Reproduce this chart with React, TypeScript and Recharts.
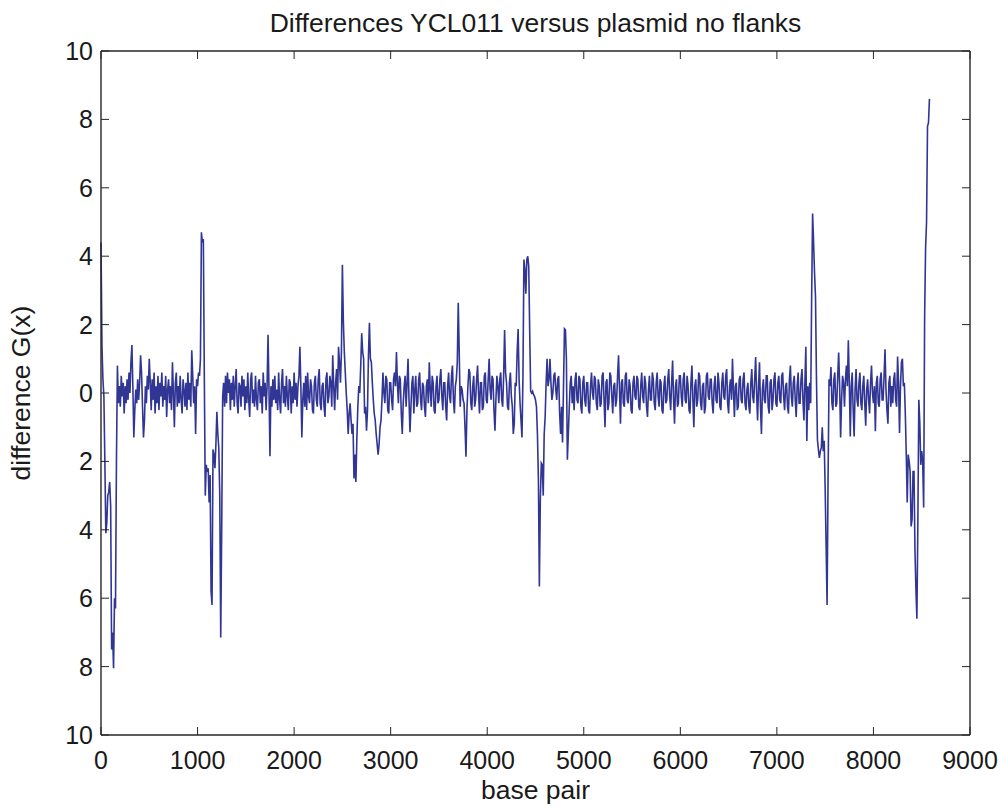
import React from "react";
import { LineChart, Line, XAxis, YAxis } from "recharts";

const STEP = 10;

const SEG_0 = [
  4.4, 1.35, 0.4, -0.1, -2.0, -4.1, -3.8, -3.0, -2.9, -2.6,
  -3.3, -7.5, -7.0, -8.05, -6.0, -6.3, -2.0, 0.8, -0.3, 0.2,
  -0.4, 0.5, -0.1, 0.3, -0.6, 0.2, -0.3, 0.4, -0.2, 0.6,
  0.0, 0.9, 1.4, 0.2, -1.3, -0.5, 0.1, -0.3, 0.4, -0.2,
  0.3, 1.1, 0.6, -0.4, -1.3, -0.8, 0.2, -0.3, 0.5, 0.1,
  1.0, 0.3, -0.5, 0.4, -0.2, 0.6, -0.6, 0.2, -0.3, 0.5,
  -0.5, 0.3, -0.1, 0.6, -0.4, 0.2, -0.2, 0.5, -0.7, 0.1,
  0.4, -0.3, 0.2, -0.5, 0.9, 0.0, -1.0, 0.3, 0.6, -0.4,
  0.2, -0.3, 0.5, -0.2, -0.6, 0.4, 0.1, -0.4, 0.3, -0.5,
  0.6, -0.2, 0.3, -0.4, 1.25, 0.5, -0.3, 0.2, -1.2, 0.4,
];
const SEG_1000 = [
  0.2, 0.6, 0.5, 1.0, 4.7, 4.4, 4.5, 0.5, -3.0, -2.1,
  -2.3, -2.2, -3.2, -2.4, -5.8, -6.2, -1.65, -1.8, -2.2, -1.5,
  -0.55, -1.2, -1.6, -3.0, -7.15, -4.0, -0.1, 0.3, -0.4, 0.5,
  -0.3, 0.6, 0.0, 0.4, -0.5, 0.3, -0.2, 0.5, -0.4, 0.2,
  0.7, -0.3, -0.6, 0.3, 0.2, -0.4, 0.5, -0.1, 0.4, -0.5,
  0.2, -0.3, 0.6, -0.2, -0.7, 0.4, 0.6, -0.3, 0.1, -0.4,
  0.5, -0.2, -0.5, 0.3, 0.4, -0.3, 0.2, -0.6, 0.6, -0.1,
  0.3, -0.5, 0.2, 1.7, 0.1, -1.85, 0.2, -0.4, 0.4, -0.2,
  0.5, -0.3, 0.1, -0.5, 0.6, -0.2, -0.6, 0.3, 0.7, -0.3,
  0.2, -0.4, 0.5, -0.1, -0.5, 0.4, 0.3, -0.6, 0.2, -0.3,
];
const SEG_2000 = [
  0.6, -0.2, 0.3, -0.4, 0.2, 0.5, 1.35, 0.2, -1.3, -0.2,
  0.3, -0.4, 0.5, -0.5, 0.6, -0.1, -0.3, 0.4, 0.2, -0.5,
  -0.6, 0.3, 0.5, -0.2, -0.4, 0.4, 0.7, -0.3, -0.5, 0.2,
  0.3, -0.4, -0.7, 0.4, 0.6, -0.3, -0.1, 0.5, 0.3, -0.4,
  1.1, 0.2, -0.5, 0.3, 0.7, -0.2, 1.35, 0.9, 0.3, 1.2,
  3.75, 2.1, 1.2, 0.6, 0.0, -0.5, -1.2, -0.6, -0.3, -0.8,
  -1.2, -0.9, -2.5, -1.8, -2.6, -1.3, -0.4, 0.2, 0.0, 0.8,
  1.75, 1.2, 1.0, -0.6, -0.4, -1.1, -0.5, 1.1, 2.05, 1.0,
  0.9, 0.3, -0.2, -0.6, -0.8, -1.2, -1.5, -1.8, -1.5, -1.0,
  -0.8, -0.2, 0.6, 0.0, -0.3, 0.5, 0.4, -0.5, -0.6, 0.3,
];
const SEG_3000 = [
  0.3, -0.2, -0.5, 0.4, 0.6, 0.2, 1.2, 0.3, -0.3, 0.5,
  0.4, -0.6, -1.2, -0.3, 0.2, 0.5, -0.4, 0.3, 1.0, -0.2,
  -1.15, -0.4, 0.3, 0.5, -0.6, 0.1, 0.5, -0.4, -0.3, 0.4,
  0.6, -0.2, -0.5, 0.3, 0.2, -0.4, -0.7, 0.2, 0.4, -0.3,
  0.9, 0.1, -0.4, 0.5, 0.3, -0.5, -0.6, 0.2, 0.5, -0.3,
  -0.2, 0.4, 0.7, -0.1, -0.5, 0.3, 0.3, -0.4, -0.8, 0.2,
  0.6, -0.1, -0.3, 0.5, 0.8, -0.2, -0.6, 0.2, 0.4, 0.9,
  2.64, 1.2, -0.4, 0.2, 0.1, -0.2, -0.3, -1.0, -1.86, -0.5,
  0.2, 0.7, 0.6, -0.3, -0.5, 0.2, 0.5, -0.4, -0.2, 0.4,
  0.8, 0.0, -0.6, 0.3, 0.3, -0.5, -0.4, 0.5, 0.6, -0.2,
];
const SEG_4000 = [
  -0.3, 0.4, 1.0, 0.1, -0.2, 0.5, 0.4, -0.5, -1.1, -0.2,
  0.5, 0.2, -0.3, 0.4, 0.6, -0.2, -0.4, 0.5, 1.84, 0.6,
  0.3, -0.4, -0.5, 0.3, 0.6, -0.1, -0.4, -1.2, -0.9, 0.3,
  0.2, 1.2, 1.87, 0.4, -0.3, -0.8, -1.3, 0.5, 3.9, 3.6,
  2.9, 3.9, 4.0, 3.7, 1.8, 0.05, 0.0, 0.05, -0.05, -0.1,
  -0.2, -0.4, -1.2, -2.5, -5.66, -3.1, -2.05, -2.1, -3.0, -1.2,
  -0.7, 0.3, 1.0, 0.2, 0.4, 1.0, 0.3, -0.2, 0.0, 0.5,
  0.6, 0.1, -0.2, 0.4, 0.5, -0.6, -1.2, -0.4, -1.45, 0.2,
  1.88, 1.85, 1.0, -1.95, -1.2, -0.4, 0.3, 0.5, -0.3, 0.2,
  -0.5, 0.4, 0.6, -0.2, -0.3, 0.5, 0.4, -0.4, -0.6, 0.3,
];
const SEG_5000 = [
  0.5, -0.2, -0.4, 0.3, 0.3, -0.5, -0.6, 0.2, 0.6, 0.0,
  -0.2, 0.5, 0.4, -0.3, -0.5, 0.4, 0.2, -0.4, -0.3, 0.5,
  0.6, -0.2, -1.0, 0.3, 0.4, -0.5, -0.3, 0.6, 0.5, -0.1,
  -0.6, 0.2, 0.3, -0.4, -0.2, 0.5, 1.1, 0.1, -0.9, 0.3,
  0.4, -0.3, -0.4, 0.5, 0.6, -0.2, -0.3, 0.4, 0.2, -0.5,
  -0.6, 0.3, 0.5, -0.1, -0.2, 0.5, 0.4, -0.4, -0.5, 0.2,
  0.6, -0.1, -0.3, 0.5, 0.3, -0.4, -0.7, 0.1, 0.5, -0.2,
  -0.2, 0.6, 0.4, -0.3, -0.5, 0.3, 0.6, -0.1, -0.4, 0.4,
  0.3, -0.5, -0.6, 0.2, 0.5, -0.3, -0.2, 0.4, 0.7, -0.1,
  -0.5, 0.3, 0.95, -0.2, -0.9, 0.2, 0.4, -0.4, -0.3, 0.5,
];
const SEG_6000 = [
  0.5, -0.1, -0.4, 0.4, 0.6, -0.2, -0.3, 0.5, 0.2, -0.5,
  -0.6, 0.3, 0.8, -0.2, -1.0, 0.2, 0.4, -0.4, -0.2, 0.6,
  0.5, -0.3, -0.5, 0.2, 0.3, -0.6, -0.4, 0.5, 0.6, -0.1,
  -0.2, 0.4, 0.4, -0.3, -0.6, 0.2, 0.5, -0.2, -0.3, 0.6,
  0.3, -0.4, -0.5, 0.3, 0.6, -0.1, -0.2, 0.5, 0.7, -0.3,
  -0.6, 0.2, 0.4, -0.2, 1.0, 0.1, -0.7, 0.2, 0.3, -0.5,
  -0.4, 0.4, 0.5, -0.2, -0.3, 0.4, 0.6, -0.3, -0.5, 0.1,
  0.3, -0.4, -0.6, 0.3, 0.7, -0.1, -0.3, 0.4, 1.05, 0.0,
  -0.8, 0.2, 0.9, -0.4, -1.2, 0.1, 0.4, -0.2, -0.3, 0.5,
  0.5, -0.4, -0.6, 0.3, 0.4, -0.5, -0.2, 0.4, 0.6, -0.3,
];
const SEG_7000 = [
  -0.4, 0.3, 0.5, -0.2, -0.3, 0.5, 0.6, -0.1, -0.5, 0.2,
  0.3, -0.4, -0.6, 0.4, 0.8, -0.1, -0.4, 0.3, 0.5, -0.2,
  -0.7, 0.2, 0.6, -0.3, -0.3, 0.4, 0.7, -0.2, -0.8, 0.3,
  1.35, -1.4, 0.2, -0.5, 0.3, -0.3, 2.8, 5.25, 4.4, 3.5,
  2.8, 0.4, -1.37, -1.66, -1.9, -1.7, -1.6, -1.0, -1.7, -1.4,
  -2.8, -4.5, -6.2, -2.5, 0.4, 0.2, 0.76, -0.3, -0.5, 0.4,
  0.6, -0.4, -0.3, 0.5, 1.18, 0.2, -1.3, -0.2, 0.5, 0.3,
  -0.4, 0.4, 0.8, 0.2, 1.54, 0.3, -1.27, 0.2, 0.6, -0.5,
  -1.27, 0.1, 0.7, -0.2, -0.4, 0.3, 0.6, -0.3, -0.5, 0.2,
  0.5, -0.3, -0.96, 0.1, 0.4, -0.2, -0.6, 0.3, 0.8, 0.0,
];
const SEG_8000 = [
  -0.3, 0.2, -1.12, 0.3, 0.5, -0.3, -0.4, 0.4, 0.6, -0.2,
  -0.2, 0.5, 1.28, 0.1, -0.5, -0.9, 0.3, 0.5, -0.4, 0.2,
  -0.3, 0.4, 0.6, -0.2, -0.4, 1.07, 0.3, -1.17, 0.2, 0.9,
  1.0, 0.2, 0.3, -0.6, -1.8, -3.2, -1.8, -2.0, -2.3, -3.9,
  -3.7, -2.3, -2.3, -4.6, -5.75, -6.6, -3.8, -0.2, -0.85, -2.1,
  -1.7, -2.0, -3.35, 2.2, 4.25, 5.0, 7.8, 7.9, 8.6,
];

const X_TICKS = [0, 1000, 2000, 3000, 4000, 5000, 6000, 7000, 8000, 9000];
const Y_TICKS = [-10, -8, -6, -4, -2, 0, 2, 4, 6, 8, 10];
// the original figure lost its minus signs on the y labels
const Y_TICK_LABELS = ["10", "8", "6", "4", "2", "0", "2", "4", "6", "8", "10"];

const data = [SEG_0, SEG_1000, SEG_2000, SEG_3000, SEG_4000, SEG_5000, SEG_6000, SEG_7000, SEG_8000]
  .flat()
  .map((g, i) => ({ bp: i * STEP, g }));

const AXIS = "#262626";
const TEXT = "#1a1a1a";
const FONT = "'Liberation Sans', Arial, Helvetica, sans-serif";
const FS = 25;
const LABEL_FS = 26.5;
const TICK = 8;

function BottomTick({ x, y, payload }: any) {
  return (
    <g>
      <line x1={x} y1={y} x2={x} y2={y - TICK} stroke={AXIS} strokeWidth={1} />
      <text x={x} y={y + 34} textAnchor="middle" fontSize={FS} fontFamily={FONT} fill={TEXT}>
        {payload.value}
      </text>
    </g>
  );
}

function TopTick({ x, y }: any) {
  return <line x1={x} y1={y} x2={x} y2={y + TICK} stroke={AXIS} strokeWidth={1} />;
}

function LeftTick({ x, y, payload }: any) {
  const label = Y_TICK_LABELS[Y_TICKS.indexOf(payload.value)];
  return (
    <g>
      <line x1={x} y1={y} x2={x + TICK} y2={y} stroke={AXIS} strokeWidth={1} />
      <text x={x - 8} y={y + 9} textAnchor="end" fontSize={FS} fontFamily={FONT} fill={TEXT}>
        {label}
      </text>
    </g>
  );
}

function RightTick({ x, y }: any) {
  return <line x1={x} y1={y} x2={x - TICK} y2={y} stroke={AXIS} strokeWidth={1} />;
}

export default function App() {
  const axisLine = { stroke: AXIS, strokeWidth: 1.4 };
  return (
    <div style={{ position: "absolute", left: 0, top: 0, width: 1001, height: 807, background: "#fff" }}>
      <LineChart width={1001} height={807} data={data} margin={{ top: 0, right: 0, bottom: 0, left: 0 }}>
        <XAxis
          xAxisId="b"
          type="number"
          dataKey="bp"
          domain={[0, 9000]}
          ticks={X_TICKS}
          interval={0}
          height={72}
          tickSize={0}
          tickMargin={0}
          tickLine={false}
          axisLine={axisLine}
          tick={<BottomTick />}
        />
        <XAxis
          xAxisId="t"
          orientation="top"
          type="number"
          dataKey="bp"
          domain={[0, 9000]}
          ticks={X_TICKS}
          interval={0}
          height={51}
          tickSize={0}
          tickMargin={0}
          tickLine={false}
          axisLine={axisLine}
          tick={<TopTick />}
        />
        <YAxis
          yAxisId="l"
          type="number"
          domain={[-10, 10]}
          ticks={Y_TICKS}
          interval={0}
          width={101}
          tickSize={0}
          tickMargin={0}
          tickLine={false}
          axisLine={axisLine}
          tick={<LeftTick />}
        />
        <YAxis
          yAxisId="r"
          orientation="right"
          type="number"
          domain={[-10, 10]}
          ticks={Y_TICKS}
          interval={0}
          width={31}
          tickSize={0}
          tickMargin={0}
          tickLine={false}
          axisLine={axisLine}
          tick={<RightTick />}
        />
        <Line
          xAxisId="t"
          yAxisId="r"
          dataKey="g"
          stroke="none"
          dot={false}
          activeDot={false}
          isAnimationActive={false}
        />
        <Line
          xAxisId="b"
          yAxisId="l"
          type="linear"
          dataKey="g"
          stroke="#313594"
          strokeWidth={1.6}
          dot={false}
          activeDot={false}
          isAnimationActive={false}
        />
      </LineChart>
      <svg
        width={1001}
        height={807}
        style={{ position: "absolute", left: 0, top: 0, pointerEvents: "none" }}
        fontFamily={FONT}
        fill={TEXT}
      >
        <text x={535.5} y={32} textAnchor="middle" fontSize={LABEL_FS}>
          Differences YCL011 versus plasmid no flanks
        </text>
        <text x={535.5} y={799} textAnchor="middle" fontSize={LABEL_FS}>
          base pair
        </text>
        <text x={30} y={393} textAnchor="middle" fontSize={LABEL_FS} transform="rotate(-90 30 393)">
          difference G(x)
        </text>
      </svg>
    </div>
  );
}
